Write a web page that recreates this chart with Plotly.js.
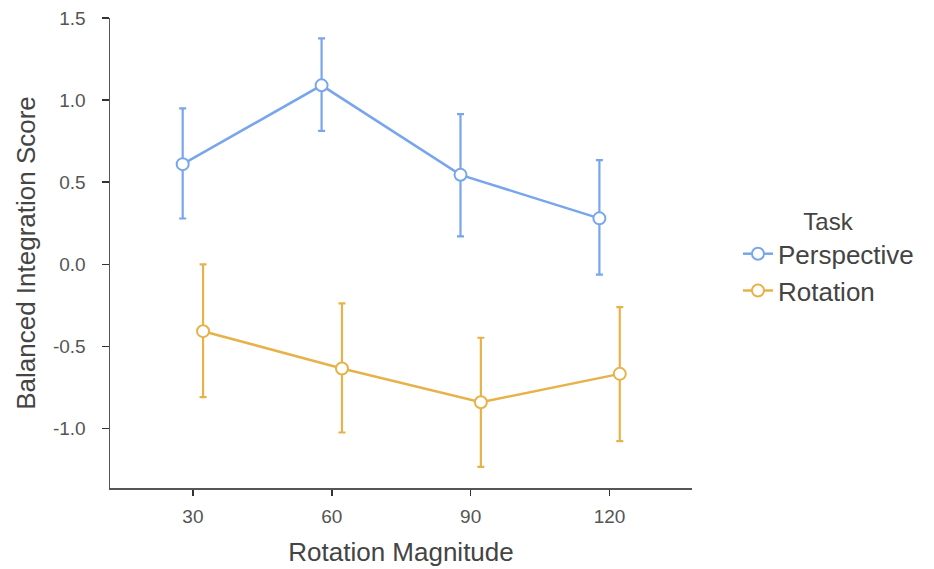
<!DOCTYPE html>
<html>
<head>
<meta charset="utf-8">
<script src="https://cdn.plot.ly/plotly-3.0.1.min.js"></script>
<style>
html,body{margin:0;padding:0;background:#fff;}
#chart{width:934px;height:569px;}
</style>
</head>
<body>
<div id="chart"></div>
<script>
// Data
const magnitude = [30, 60, 90, 120];
const perspective = [0.61, 1.09, 0.545, 0.28];
const perspectiveUpper = [0.95, 1.376, 0.915, 0.634];
const perspectiveLower = [0.279, 0.813, 0.17, -0.063];
const rotation = [-0.407, -0.634, -0.84, -0.667];
const rotationUpper = [0.0, -0.238, -0.447, -0.26];
const rotationLower = [-0.809, -1.024, -1.233, -1.077];
const yTickVals = [-1.0, -0.5, 0.0, 0.5, 1.0, 1.5];
const yTickText = ["-1.0", "-0.5", "0.0", "0.5", "1.0", "1.5"];
const xTickVals = [30, 60, 90, 120];

const dodge = 2.2;
const blue = '#78A6EC';
const orange = '#E8B24A';
const font = 'Liberation Sans, Arial, Helvetica, sans-serif';

function makeTrace(name, vals, up, lo, color, shift) {
  return {
    type: 'scatter',
    mode: 'lines+markers',
    name: name,
    x: magnitude.map(m => m + shift),
    y: vals,
    line: {color: color, width: 2.5},
    marker: {symbol: 'circle', size: 12, color: '#ffffff', line: {color: color, width: 2}},
    error_y: {
      type: 'data', symmetric: false,
      array: up.map((u, i) => u - vals[i]),
      arrayminus: lo.map((l, i) => vals[i] - l),
      color: color, thickness: 2.2, width: 3.5
    },
    hoverinfo: 'x+y'
  };
}

const data = [
  makeTrace('Perspective', perspective, perspectiveUpper, perspectiveLower, blue, -dodge),
  makeTrace('Rotation', rotation, rotationUpper, rotationLower, orange, dodge)
];

const layout = {
  width: 934, height: 569,
  margin: {l: 110, r: 242, t: 18, b: 81},
  paper_bgcolor: '#ffffff', plot_bgcolor: '#ffffff',
  font: {family: font, color: '#444'},
  showlegend: true,
  xaxis: {
    range: [12.1, 137.8],
    tickmode: 'array', tickvals: xTickVals,
    ticks: 'outside', ticklen: 6, tickwidth: 1.5, tickcolor: '#333',
    showline: true, linecolor: '#555', linewidth: 1.5,
    showgrid: false, zeroline: false,
    tickfont: {size: 19, color: '#555', family: font},
    ticklabelstandoff: 5,
    title: {text: 'Rotation Magnitude', font: {size: 26, color: '#444', family: font}, standoff: 16}
  },
  yaxis: {
    range: [-1.362, 1.5],
    tickmode: 'array', tickvals: yTickVals, ticktext: yTickText,
    ticks: 'outside', ticklen: 7, tickwidth: 1.5, tickcolor: '#333',
    showline: true, linecolor: '#555', linewidth: 1.5,
    showgrid: false, zeroline: false,
    tickfont: {size: 19, color: '#555', family: font},
    ticklabelstandoff: 12,
    title: {text: 'Balanced Integration Score', font: {size: 26, color: '#444', family: font}, standoff: 10}
  },
  legend: {
    x: 1.079, xanchor: 'left', y: 0.37, yanchor: 'bottom',
    bgcolor: 'rgba(0,0,0,0)',
    font: {size: 26, color: '#444', family: font},
    title: {text: 'Task', side: 'top center', font: {size: 24, color: '#444', family: font}},
    itemwidth: 30, tracegroupgap: 0
  }
};

Plotly.newPlot('chart', data, layout, {displayModeBar: false, staticPlot: true});
</script>
</body>
</html>
